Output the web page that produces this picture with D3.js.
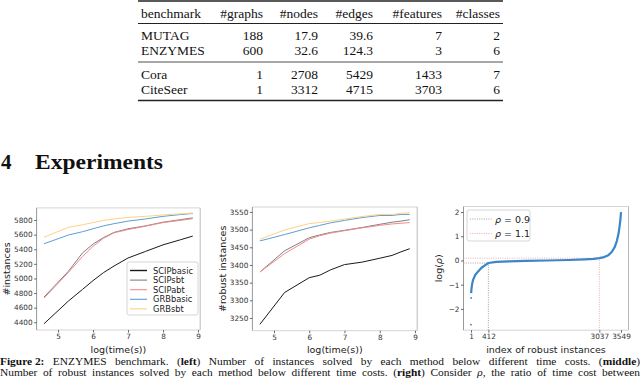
<!DOCTYPE html>
<html>
<head>
<meta charset="utf-8">
<script src="https://cdn.jsdelivr.net/npm/d3@7"></script>
<style>body{margin:0;background:#fff;}</style>
</head>
<body>
<script>
// ---- data ----
var tableHeader = ["benchmark", "#graphs", "#nodes", "#edges", "#features", "#classes"];
var tableGroupA = [["MUTAG", "188", "17.9", "39.6", "7", "2"],
                   ["ENZYMES", "600", "32.6", "124.3", "3", "6"]];
var tableGroupB = [["Cora", "1", "2708", "5429", "1433", "7"],
                   ["CiteSeer", "1", "3312", "4715", "3703", "6"]];

var methods = ["SCIPbasic", "SCIPsbt", "SCIPabt", "GRBbasic", "GRBsbt"];
var methodColors = ["#1a1a1a", "#808080", "#f28a8a", "#5c9fd6", "#ffd185"];

var leftTime = [4.6, 5.3, 5.7, 6.0, 6.3, 6.6, 7.0, 7.5, 8.0, 8.5, 8.85];
var leftSCIPbasic = [4380, 4692, 4850, 4970, 5080, 5170, 5280, 5370, 5460, 5530, 5580];
var leftSCIPsbt   = [4745, 5100, 5350, 5470, 5560, 5630, 5680, 5720, 5770, 5805, 5830];
var leftSCIPabt   = [4730, 5085, 5300, 5440, 5550, 5625, 5670, 5715, 5765, 5795, 5818];
var leftGRBbasic  = [5475, 5595, 5640, 5680, 5720, 5750, 5785, 5815, 5850, 5875, 5890];
var leftGRBsbt    = [5565, 5700, 5735, 5765, 5795, 5815, 5835, 5850, 5870, 5885, 5895];
var leftYTicks = [4400, 4600, 4800, 5000, 5200, 5400, 5600, 5800];

var midTime = [4.6, 5.3, 6.0, 6.3, 6.6, 7.0, 7.5, 8.0, 8.35, 8.6, 8.85];
var midSCIPbasic = [3232, 3322, 3364, 3371, 3386, 3401, 3408, 3419, 3427, 3437, 3446];
var midSCIPsbt   = [3380, 3440, 3477, 3485, 3492, 3498, 3506, 3515, 3521, 3524, 3528];
var midSCIPabt   = [3380, 3432, 3473, 3483, 3490, 3497, 3505, 3512, 3516, 3518, 3520];
var midGRBbasic  = [3468, 3486, 3505, 3512, 3519, 3526, 3534, 3540, 3540, 3543, 3543];
var midGRBsbt    = [3473, 3499, 3517, 3520, 3524, 3530, 3537, 3543, 3543, 3546, 3548];
var midYTicks = [3250, 3300, 3350, 3400, 3450, 3500, 3550];

var timeTicks = [5, 6, 7, 8, 9];

var rhoIndex = [5, 10, 25, 50, 100, 170, 250, 330, 412, 600, 900, 1300, 1800, 2300, 2700, 2900, 3037,
                3150, 3250, 3330, 3400, 3450, 3490, 3515, 3535, 3549];
var rhoLog   = [-1.35, -1.2, -1.0, -0.8, -0.6, -0.45, -0.3, -0.2, -0.105, -0.06, -0.035, -0.015, 0.0,
                0.02, 0.045, 0.065, 0.095, 0.14, 0.22, 0.35, 0.55, 0.8, 1.1, 1.4, 1.7, 2.0];
var rhoOutIndex = [1, 3];
var rhoOutLog = [-2.65, -1.55];
var rhoXTicks = [1, 412, 3037, 3549];
var rhoYTicks = [-2, -1, 0, 1, 2];
var rhoLow = 0.9, rhoHigh = 1.1, lowIdx = 412, highIdx = 3037;

var captionLine1 = ["*Figure 2:*", "ENZYMES", "benchmark.", "(*left*)", "Number", "of", "instances", "solved", "by",
  "each", "method", "below", "different", "time", "costs.", "(*middle*)"];
var captionLine2 = ["Number", "of", "robust", "instances", "solved", "by", "each", "method", "below", "different",
  "time", "costs.", "(*right*)", "Consider", "_ρ_,", "the", "ratio", "of", "time", "cost", "between"];

// ---- page ----
var serif = "'Liberation Serif', 'DejaVu Serif', serif";
var sans = "'DejaVu Sans', sans-serif";

var svg = d3.select("body").append("svg")
    .attr("width", 640)
    .attr("height", 378)
    .style("background", "#fff");

// table
var colRight = [0, 263, 318, 373, 442, 500];
var colLeft = 141;

function tableRow(row, y) {
    row.forEach(function (cell, i) {
        svg.append("text")
            .attr("x", i == 0 ? colLeft : colRight[i])
            .attr("y", y)
            .attr("text-anchor", i == 0 ? "start" : "end")
            .style("font-family", serif)
            .style("font-size", "13.5px")
            .style("fill", "#111")
            .text(cell);
    });
}
function rule(y, w) {
    svg.append("line").attr("x1", 138).attr("x2", 503).attr("y1", y).attr("y2", y)
        .style("stroke", "#222").style("stroke-width", w);
}
rule(1, 1.6);
tableRow(tableHeader, 18);
rule(23.5, 1);
tableGroupA.forEach(function (r, i) { tableRow(r, 39.5 + i * 15); });
rule(62, 0.8);
tableGroupB.forEach(function (r, i) { tableRow(r, 79 + i * 15); });
rule(100.5, 1.6);

// section title
svg.append("text").attr("x", 1).attr("y", 169)
    .style("font-family", serif).style("font-weight", "bold").style("font-size", "21px")
    .style("fill", "#111").text("4");
svg.append("text").attr("x", 35).attr("y", 169)
    .attr("textLength", 128).attr("lengthAdjust", "spacingAndGlyphs")
    .style("font-family", serif).style("font-weight", "bold").style("font-size", "21px")
    .style("fill", "#111").text("Experiments");

// ---- chart helpers ----
function styleAxis(g) {
    g.select(".domain").remove();
    g.selectAll(".tick line").style("stroke", "#444").style("stroke-width", 0.8);
    g.selectAll(".tick text").style("font-family", sans).style("font-size", "7.3px").style("fill", "#333");
}

function frame(x, y) {
    var x0 = x.range()[0], x1 = x.range()[1], y0 = y.range()[0], y1 = y.range()[1];
    svg.append("line").attr("x1", x0).attr("x2", x1).attr("y1", y1).attr("y2", y1).style("stroke", "#d4d4d4");
    svg.append("line").attr("x1", x0).attr("x2", x1).attr("y1", y0).attr("y2", y0).style("stroke", "#d4d4d4");
    svg.append("line").attr("x1", x0).attr("x2", x0).attr("y1", y0).attr("y2", y1).style("stroke", "#999");
    svg.append("line").attr("x1", x1).attr("x2", x1).attr("y1", y0).attr("y2", y1).style("stroke", "#bbb");
}

function axes(x, y, xt, yt) {
    var gx = svg.append("g").attr("transform", "translate(0," + y.range()[0] + ")")
        .call(d3.axisBottom(x).tickValues(xt).tickSize(2.5).tickPadding(1.5).tickFormat(d3.format("d")));
    styleAxis(gx);
    var gy = svg.append("g").attr("transform", "translate(" + x.range()[0] + ",0)")
        .call(d3.axisLeft(y).tickValues(yt).tickSize(2.5).tickPadding(1.5).tickFormat(d3.format("d")));
    styleAxis(gy);
}

function labels(x, y, xlab, ylabX) {
    svg.append("text")
        .attr("x", (x.range()[0] + x.range()[1]) / 2).attr("y", 353)
        .attr("text-anchor", "middle")
        .style("font-family", sans).style("font-size", "9.5px").style("fill", "#222")
        .text(xlab);
    return svg.append("text")
        .attr("transform", "translate(" + ylabX + "," + ((y.range()[0] + y.range()[1]) / 2) + ") rotate(-90)")
        .attr("text-anchor", "middle")
        .style("font-family", sans).style("font-size", "9.5px").style("fill", "#222");
}

function linePanel(x, y, times, seriesList) {
    seriesList.forEach(function (vals, k) {
        var line = d3.line()
            .x(function (d, i) { return x(times[i]); })
            .y(function (d) { return y(d); });
        svg.append("path")
            .datum(vals)
            .attr("d", line)
            .style("fill", "none")
            .style("stroke", methodColors[k])
            .style("stroke-width", 1);
    });
}

// ---- left chart ----
var xL = d3.scaleLinear().domain([4.3875, 9.0625]).range([36.6, 200.2]);
var yL = d3.scaleLinear().domain([4294, 5966]).range([330, 207.9]);
frame(xL, yL);
axes(xL, yL, timeTicks, leftYTicks);
labels(xL, yL, "log(time(s))", 10).text("#instances");
linePanel(xL, yL, leftTime, [leftSCIPbasic, leftSCIPsbt, leftSCIPabt, leftGRBbasic, leftGRBsbt]);

// legend
var lg = svg.append("g");
lg.append("rect").attr("x", 127).attr("y", 262).attr("width", 71).attr("height", 53).attr("rx", 2)
    .style("fill", "#fff").style("fill-opacity", 0.85).style("stroke", "#ccc").style("stroke-width", 0.8);
methods.forEach(function (m, i) {
    var yy = 270.5 + i * 9.6;
    lg.append("line").attr("x1", 130).attr("x2", 147).attr("y1", yy).attr("y2", yy)
        .style("stroke", methodColors[i]).style("stroke-width", i == 0 ? 1.4 : 1.1);
    lg.append("text").attr("x", 153).attr("y", yy + 3)
        .style("font-family", sans).style("font-size", "8.3px").style("fill", "#222").text(m);
});

// ---- middle chart ----
var xM = d3.scaleLinear().domain([4.3875, 9.0625]).range([252.4, 417.2]);
var yM = d3.scaleLinear().domain([3214, 3564]).range([330.7, 207]);
frame(xM, yM);
axes(xM, yM, timeTicks, midYTicks);
labels(xM, yM, "log(time(s))", 226).text("#robust instances");
linePanel(xM, yM, midTime, [midSCIPbasic, midSCIPsbt, midSCIPabt, midGRBbasic, midGRBsbt]);

// ---- right chart ----
var xR = d3.scaleLinear().domain([-176.4, 3726.4]).range([463.5, 628.5]);
var yR = d3.scaleLinear().domain([-2.88, 2.23]).range([330.2, 206.5]);
frame(xR, yR);
axes(xR, yR, rhoXTicks, rhoYTicks);
var ylR = labels(xR, yR, "index of robust instances", 442);
ylR.append("tspan").text("log(");
ylR.append("tspan").style("font-style", "italic").text("ρ");
ylR.append("tspan").text(")");

var yBottom = yR.range()[0], xLeft = xR.range()[0];
// dotted guides for rho = 0.9 and rho = 1.1
[[rhoLow, lowIdx, "#9a9a9a"], [rhoHigh, highIdx, "#f3a3a3"]].forEach(function (r) {
    var ly = yR(Math.log(r[0]));
    svg.append("line").attr("x1", xLeft).attr("x2", xR(r[1])).attr("y1", ly).attr("y2", ly)
        .style("stroke", r[2]).style("stroke-width", 0.9).style("stroke-dasharray", "1,1.3");
    svg.append("line").attr("x1", xR(r[1])).attr("x2", xR(r[1])).attr("y1", yBottom).attr("y2", ly)
        .style("stroke", r[2]).style("stroke-width", 0.9).style("stroke-dasharray", "1,1.3");
});

var rhoLine = d3.line()
    .x(function (d, i) { return xR(rhoIndex[i]); })
    .y(function (d) { return yR(d); });
svg.append("path").datum(rhoLog).attr("d", rhoLine)
    .style("fill", "none").style("stroke", "#3a86c8").style("stroke-width", 2.2)
    .style("stroke-linejoin", "round");
svg.selectAll(".out").data(rhoOutLog).enter().append("circle")
    .attr("cx", function (d, i) { return xR(rhoOutIndex[i]); })
    .attr("cy", function (d) { return yR(d); })
    .attr("r", 0.9).style("fill", "#3a86c8");

// right legend
var lr = svg.append("g");
lr.append("rect").attr("x", 467).attr("y", 210).attr("width", 63).attr("height", 31).attr("rx", 2)
    .style("fill", "#fff").style("fill-opacity", 0.85).style("stroke", "#ccc").style("stroke-width", 0.8);
[[rhoLow, "#9a9a9a"], [rhoHigh, "#f3a3a3"]].forEach(function (r, i) {
    var yy = 219 + i * 14.5;
    lr.append("line").attr("x1", 470).attr("x2", 492).attr("y1", yy).attr("y2", yy)
        .style("stroke", r[1]).style("stroke-width", 0.9).style("stroke-dasharray", "1,1.3");
    var t = lr.append("text").attr("x", 495).attr("y", yy + 3.5)
        .style("font-family", sans).style("font-size", "9.5px").style("fill", "#222");
    t.append("tspan").style("font-style", "italic").text("ρ");
    t.append("tspan").text(" = " + r[0]);
});

// ---- caption, justified ----
function justified(words, y) {
    var g = svg.append("g");
    var nodes = words.map(function (w) {
        var t = g.append("text").attr("y", y)
            .style("font-family", serif).style("font-size", "11.4px").style("fill", "#111");
        w.split(/(\*[^*]+\*|_[^_]+_)/).forEach(function (p) {
            if (!p) return;
            var s = t.append("tspan");
            if (p[0] == "*") s.style("font-weight", "bold").text(p.slice(1, -1));
            else if (p[0] == "_") s.style("font-style", "italic").text(p.slice(1, -1));
            else s.text(p);
        });
        return t;
    });
    var widths = nodes.map(function (n) { return n.node().getComputedTextLength(); });
    var gap = (640 - d3.sum(widths)) / (words.length - 1);
    var x = 0;
    nodes.forEach(function (n, i) { n.attr("x", x); x += widths[i] + gap; });
}
justified(captionLine1, 365);
justified(captionLine2, 375.5);
</script>
</body>
</html>
